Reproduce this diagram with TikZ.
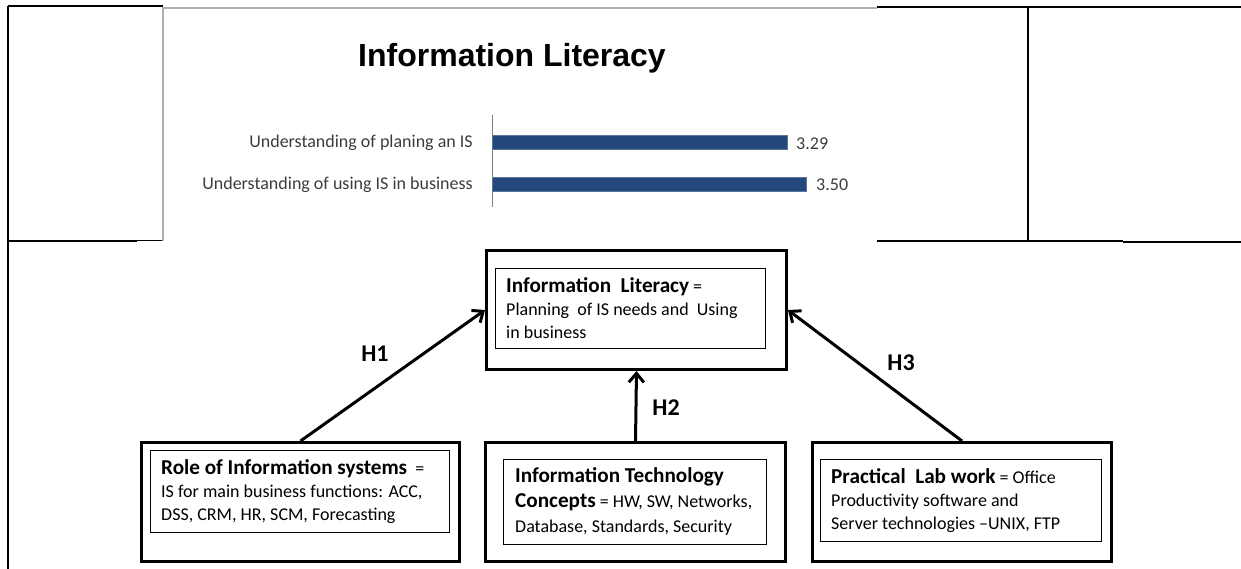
\documentclass[tikz,border=0pt]{standalone}
\usepackage{fontspec}
\setmainfont{Carlito}
\newfontfamily\chartfont{Liberation Sans}
\usetikzlibrary{arrows.meta}
\definecolor{barblue}{RGB}{36,72,124}
\definecolor{labelgray}{RGB}{60,60,60}
\definecolor{chartedge}{RGB}{175,175,175}
% bold lead-in used inside the construct boxes
\newcommand\boxhead{\bfseries\fontsize{21.2}{23}\selectfont}
\begin{document}
\begin{tikzpicture}[x=1pt,y=-1pt,
  frameline/.style={line width=2.5pt},
  thinframe/.style={line width=1.5pt},
  outerbox/.style={draw, line width=3pt, inner sep=0pt, anchor=north west},
  textframe/.style={draw, line width=0.9pt, inner sep=0pt, anchor=north west},
  boxtext/.style={anchor=west, align=left, inner sep=0pt,
    font=\fontsize{18}{23}\selectfont},
  hlabel/.style={font=\bfseries\fontsize{24}{24}\selectfont, inner sep=0pt},
  link/.style={line width=3pt, -{Straight Barb[length=9pt,width=15pt]}},
  bar/.style={fill=barblue, draw=barblue!75!white, line width=0.6pt,
    inner sep=0pt, anchor=west, minimum height=14pt},
  chartlabel/.style={text=labelgray, font=\fontsize{18}{20}\selectfont, inner sep=0pt}
]
\useasboundingbox (0,0) rectangle (1241,569);

% ---- table rules framing the chart ----
\draw[frameline] (8,6) -- (8,569);
\draw[frameline] (8,6) -- (163,6);
\draw[line width=2pt] (877,7) -- (1241,7);
\draw[line width=2pt] (1028,7) -- (1028,242);
\draw[frameline] (8,241) -- (137,241);
\draw[line width=1pt] (137,241) -- (163,241);
\draw[thinframe] (877,241) -- (1123,241);
\draw[frameline] (1123,242) -- (1241,242);

% ---- chart panel edge ----
\draw[chartedge, line width=1.5pt] (163,241) -- (163,8) -- (877,8);

% ---- bar chart ----
\node[font=\chartfont\bfseries\fontsize{32}{36}\selectfont, anchor=base, inner sep=0pt]
  (title) at (512,67) {Information Literacy};
\coordinate (axtop) at (492,115);
\coordinate (axbot) at (492,207);
\draw[gray, line width=0.8pt] (axtop) -- (axbot);
\node[bar, minimum width=295pt] (bar1) at (492,142) {};
\node[bar, minimum width=314pt] (bar2) at (492,184) {};
\node[chartlabel, anchor=base east] (lab1) at (473,148) {Understanding of planing an IS};
\node[chartlabel, anchor=base east] (lab2) at (473,190) {Understanding of using IS in business};
\node[chartlabel, anchor=base west] (val1) at (796,150) {3.29};
\node[chartlabel, anchor=base west] (val2) at (816,191) {3.50};

% ---- research model: outcome construct ----
\node[outerbox, minimum width=300pt, minimum height=119pt] (il) at (485,249) {};
\node[textframe, minimum width=270pt, minimum height=80pt] (ilf) at (495,268) {};
\node[boxtext] (ilt) at ([xshift=11pt]ilf.west)
  {{\boxhead Information\ \ Literacy} =\\Planning\ \ of IS needs and\ \ Using\\in business};

% ---- research model: predictor constructs ----
\node[outerbox, minimum width=318pt, minimum height=119pt] (rl) at (140,441) {};
\node[textframe, minimum width=299pt, minimum height=82pt] (rlf) at (150,450) {};
\node[boxtext] (rlt) at ([xshift=11pt]rlf.west)
  {{\boxhead Role of Information systems}\ \ =\\IS for main business functions: ACC,\\DSS, CRM, HR, SCM, Forecasting};

\node[outerbox, minimum width=300pt, minimum height=119pt] (itc) at (484,441) {};
\node[textframe, minimum width=263pt, minimum height=85pt] (itcf) at (503,459) {};
\node[boxtext, font=\fontsize{18}{25}\selectfont] (itct) at ([xshift=12pt]itcf.west)
  {{\boxhead Information Technology}\\{\boxhead Concepts} = HW, SW, Networks,\\Database, Standards, Security};

\node[outerbox, minimum width=299pt, minimum height=119pt] (plw) at (811,441) {};
\node[textframe, minimum width=281pt, minimum height=82pt] (plwf) at (820,459) {};
\node[boxtext] (plwt) at ([xshift=11pt]plwf.west)
  {{\boxhead Practical\ \ Lab work} = Office\\Productivity software and\\Server technologies --UNIX, FTP};

% ---- hypothesised paths ----
\draw[link] (rl.north) -- (il.west);
\draw[link] (itc.north) -- (il.south);
\draw[link] (plw.north) -- (il.east);

\node[hlabel] (h1) at (375,354) {H1};
\node[hlabel] (h2) at (666,408) {H2};
\node[hlabel] (h3) at (901,363) {H3};
\end{tikzpicture}
\end{document}
